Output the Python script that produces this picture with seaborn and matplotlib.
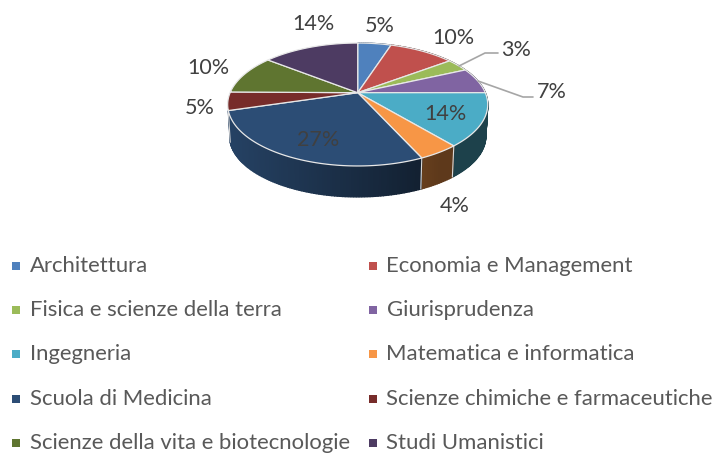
import numpy as np
import matplotlib
matplotlib.use('Agg')
import matplotlib.pyplot as plt
import seaborn as sns

categories = ['Architettura', 'Economia e Management', 'Fisica e scienze della terra',
              'Giurisprudenza', 'Ingegneria', 'Matematica e informatica',
              'Scuola di Medicina', 'Scienze chimiche e farmaceutiche',
              'Scienze della vita e biotecnologie', 'Studi Umanistici']
values = [5.0, 9.8, 3.4, 6.8, 13.9, 4.3, 27.2, 4.8, 10.4, 14.4]
colors = ['#4F81BD', '#C0504D', '#9BBB59', '#8064A2', '#4BACC6',
          '#F79646', '#2C4D75', '#772C2A', '#5F7530', '#4D3B62']

sns.set_theme(style='white')
plt.rcParams['font.family'] = ['Lato', 'DejaVu Sans']
palette = sns.color_palette(colors)
TEXT = '#404040'

fig = plt.figure(figsize=(7.17, 4.55), dpi=100)
ax = fig.add_axes([0, 0, 1, 1])
ax.set_xlim(0, 717)
ax.set_ylim(455, 0)
ax.axis('off')

# perspective of the pie: centre 357.7/92.7, front looks bigger than back
cx, cy = 357.7, 92.7
b, a, k = 127.6, 59.2, 0.192
depth = 32


def project(deg, scale=1.0, shift=0.0):
    t = np.radians(deg)
    u, v = np.sin(t), np.cos(t)
    den = 1 + k * v
    return cx + scale * b * u / den, cy - scale * a * v / den + shift


edges = np.cumsum([0] + values) / sum(values) * 360

# side wall first, split in thin pieces for the shading
# nothing after the medicine slice shows on the left
for i, col in enumerate(palette[:7]):
    th = np.arange(edges[i], edges[i + 1] + 1, 1.0)
    th[-1] = edges[i + 1]
    for t0, t1 in zip(th[:-1], th[1:]):
        x0, y0 = project(t0)
        x1, y1 = project(t1)
        x2, y2 = project(t1, 0.985, depth)
        x3, y3 = project(t0, 0.985, depth)
        f = np.clip(0.85 - (x0 - 230) / 210 * 0.47, 0.38, 0.85)
        shade = tuple(c * f for c in col)
        ax.fill([x0, x1, x2, x3], [y0, y1, y2, y3], color=shade, lw=1.0, zorder=2)

# white seams between the front wall pieces
for e in edges:
    if 90 < e % 360 < 254:
        x0, y0 = project(e)
        x1, y1 = project(e, 0.985, depth)
        ax.plot([x0, x1], [y0, y1], color='#d9d9d9', lw=0.8, zorder=3)

# top face
for i, col in enumerate(palette):
    th = np.linspace(edges[i], edges[i + 1], 80)
    xs, ys = project(th)
    ax.fill(np.r_[cx, xs], np.r_[cy, ys], facecolor=col, edgecolor='#e8e8e8', lw=0.9, zorder=4)

# data labels
label_pos = [(380, 25), (453, 36), (516, 49), (552, 91), (445, 113),
             (455, 204), (318, 139), (200, 107), (208, 67), (313, 23)]
for val, (x, y) in zip(values, label_pos):
    ax.text(x, y + 1.5, f'{round(val)}%', fontsize=15.5, color=TEXT, ha='center', va='center', zorder=6)

# leader lines for 3% and 7%
ax.plot([459, 485, 498], [66, 53, 53], color='#A6A6A6', lw=1.2, zorder=5)
ax.plot([478, 523, 533], [81, 97, 97], color='#A6A6A6', lw=1.2, zorder=5)

# legend, two columns, last row kept just inside the figure
for i, (name, col) in enumerate(zip(categories, palette)):
    lx = 16 if i % 2 == 0 else 373
    ly = 266 + 44.2 * (i // 2)
    ax.scatter([lx], [ly], marker='s', s=34, color=col, linewidths=0, zorder=5)
    ax.text(lx + 13.5, ly, name, fontsize=15.9, color='#595959', ha='left', va='center')

fig.savefig('out.png', dpi=100)
